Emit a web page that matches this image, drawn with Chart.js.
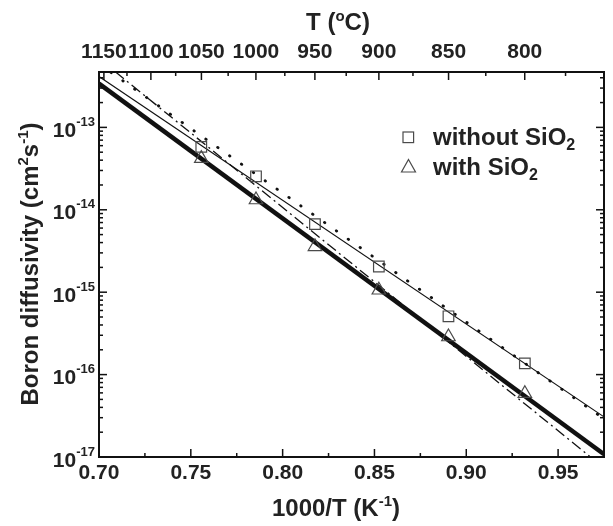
<!DOCTYPE html>
<html>
<head>
<meta charset="utf-8">
<script src="https://cdn.jsdelivr.net/npm/chart.js@4.4.1/dist/chart.umd.min.js"></script>
<style>
  body { margin: 0; background: #fff; }
  #wrap { width: 613px; height: 526px; }
</style>
</head>
<body>
<div id="wrap"><canvas id="myChart" width="613" height="526"></canvas></div>
<script>
// measured points, 1000/T for 1050 ... 800 C
const invT = [0.7557, 0.7855, 0.8176, 0.8524, 0.8903, 0.9319];
const withoutSiO2 = [5.8e-14, 2.55e-14, 6.7e-15, 2.05e-15, 5.1e-16, 1.37e-16];
const withSiO2 = [4.2e-14, 1.32e-14, 3.57e-15, 1.06e-15, 2.87e-16, 5.9e-17];

// fit lines, read at both ends of the x axis
const fitX = [0.70, 0.975];
const fitWithout = [4.14e-13, 3.07e-17];
const fitWithoutDotted = [5.87e-13, 2.9e-17];
const fitWith = [3.4e-13, 1.08e-17];
const fitWithDashDot = [6.85e-13, 7.35e-18];

// tick labels
const xTicks = [0.70, 0.75, 0.80, 0.85, 0.90, 0.95];
const tempTicks = [1150, 1100, 1050, 1000, 950, 900, 850, 800];
const tempMinor = [1125, 1075, 1025, 975, 925, 875, 825, 775];
const yDecades = [-17, -16, -15, -14, -13];

const FONT = '"Liberation Sans", Arial, sans-serif';
const INK = '#222';

function pts(xs, ys) {
    return xs.map((x, i) => ({ x: x, y: ys[i] }));
}

function drawRich(ctx, parts, x, y, align) {
    let total = 0;
    parts.forEach(p => {
        ctx.font = p.font;
        p.w = ctx.measureText(p.t).width;
        total += p.w;
    });
    let cx = x;
    if (align === 'center') cx = x - total / 2;
    if (align === 'right') cx = x - total;
    parts.forEach(p => {
        ctx.font = p.font;
        ctx.fillText(p.t, cx, y + (p.dy || 0));
        cx += p.w;
    });
}

function line(ctx, x1, y1, x2, y2) {
    ctx.beginPath();
    ctx.moveTo(x1, y1);
    ctx.lineTo(x2, y2);
    ctx.stroke();
}

const axesPlugin = {
    id: 'axesPlugin',
    afterDraw(chart) {
        const ctx = chart.ctx;
        const a = chart.chartArea;
        const xs = chart.scales.x;
        const ys = chart.scales.y;
        ctx.save();
        ctx.strokeStyle = '#111';
        ctx.fillStyle = INK;
        ctx.textAlign = 'left';
        ctx.textBaseline = 'alphabetic';

        // frame
        ctx.lineWidth = 2;
        ctx.strokeRect(a.left, a.top, a.right - a.left, a.bottom - a.top);

        ctx.lineWidth = 1.5;
        // bottom ticks and labels
        xTicks.forEach(v => {
            const px = xs.getPixelForValue(v);
            line(ctx, px, a.bottom, px, a.bottom - 8);
            const mx = xs.getPixelForValue(v + 0.025);
            if (v + 0.025 < xs.max - 1e-6) line(ctx, mx, a.bottom, mx, a.bottom - 4);
            drawRich(ctx, [{ t: v.toFixed(2), font: 'bold 21px ' + FONT }], px, 479, 'center');
        });

        // top temperature ticks and labels
        tempTicks.forEach(t => {
            const px = xs.getPixelForValue(1000 / (t + 273.15));
            line(ctx, px, a.top, px, a.top + 8);
            drawRich(ctx, [{ t: String(t), font: 'bold 21px ' + FONT }], px, 58, 'center');
        });
        tempMinor.forEach(t => {
            const px = xs.getPixelForValue(1000 / (t + 273.15));
            line(ctx, px, a.top, px, a.top + 4);
        });

        // left / right log ticks
        yDecades.forEach(d => {
            const py = ys.getPixelForValue(Math.pow(10, d));
            line(ctx, a.left, py, a.left + 8, py);
            line(ctx, a.right, py, a.right - 8, py);
            for (let k = 2; k <= 9; k++) {
                const v = k * Math.pow(10, d);
                if (v > ys.max) break;
                const my = ys.getPixelForValue(v);
                line(ctx, a.left, my, a.left + 4, my);
                line(ctx, a.right, my, a.right - 4, my);
            }
            drawRich(ctx, [
                { t: '10', font: 'bold 21px ' + FONT },
                { t: String(d), font: 'bold 13px ' + FONT, dy: -11 }
            ], 95, py + 9.5, 'right');
        });

        // axis titles
        drawRich(ctx, [
            { t: 'T (', font: 'bold 24px ' + FONT },
            { t: 'o', font: 'bold 15px ' + FONT, dy: -9 },
            { t: 'C)', font: 'bold 24px ' + FONT }
        ], 338, 30, 'center');

        drawRich(ctx, [
            { t: '1000/T (K', font: 'bold 24px ' + FONT },
            { t: '-1', font: 'bold 15px ' + FONT, dy: -10 },
            { t: ')', font: 'bold 24px ' + FONT }
        ], 336, 516, 'center');

        ctx.save();
        ctx.translate(38, 264);
        ctx.rotate(-Math.PI / 2);
        drawRich(ctx, [
            { t: 'Boron diffusivity (cm', font: 'bold 24px ' + FONT },
            { t: '2', font: 'bold 15px ' + FONT, dy: -10 },
            { t: 's', font: 'bold 24px ' + FONT },
            { t: '-1', font: 'bold 15px ' + FONT, dy: -10 },
            { t: ')', font: 'bold 24px ' + FONT }
        ], 0, 0, 'center');
        ctx.restore();

        // legend
        ctx.strokeStyle = '#4a4a4a';
        ctx.lineWidth = 1.2;
        ctx.strokeRect(403, 132, 10.6, 10.6);
        ctx.beginPath();
        ctx.moveTo(408.5, 159.5);
        ctx.lineTo(415.5, 172);
        ctx.lineTo(401.5, 172);
        ctx.closePath();
        ctx.stroke();
        drawRich(ctx, [
            { t: 'without SiO', font: 'bold 24px ' + FONT },
            { t: '2', font: 'bold 16px ' + FONT, dy: 5 }
        ], 433, 145, 'left');
        drawRich(ctx, [
            { t: 'with SiO', font: 'bold 24px ' + FONT },
            { t: '2', font: 'bold 16px ' + FONT, dy: 5 }
        ], 433, 175, 'left');

        ctx.restore();
    }
};

const ctx = document.getElementById('myChart').getContext('2d');
const myChart = new Chart(ctx, {
    type: 'scatter',
    data: {
        datasets: [{
            label: 'without SiO2',
            data: pts(invT, withoutSiO2),
            pointStyle: 'rect',
            pointRadius: 7.5,
            borderColor: '#4a4a4a',
            backgroundColor: 'rgba(0,0,0,0)',
            borderWidth: 1.2,
            showLine: false
        }, {
            label: 'with SiO2',
            data: pts(invT, withSiO2),
            pointStyle: 'triangle',
            pointRadius: 7.8,
            borderColor: '#4a4a4a',
            backgroundColor: 'rgba(0,0,0,0)',
            borderWidth: 1.2,
            showLine: false
        }, {
            label: 'fit without (solid)',
            data: pts(fitX, fitWithout),
            showLine: true,
            pointRadius: 0,
            borderColor: '#111',
            borderWidth: 1.2
        }, {
            label: 'fit without (dotted)',
            data: pts(fitX, fitWithoutDotted),
            showLine: true,
            pointRadius: 0,
            borderColor: '#111',
            borderWidth: 2.8,
            borderDash: [0.5, 14],
            borderCapStyle: 'round'
        }, {
            label: 'fit with (thick)',
            data: pts(fitX, fitWith),
            showLine: true,
            pointRadius: 0,
            borderColor: '#111',
            borderWidth: 4.5
        }, {
            label: 'fit with (dash-dot)',
            data: pts(fitX, fitWithDashDot),
            showLine: true,
            pointRadius: 0,
            borderColor: '#111',
            borderWidth: 1.3,
            borderDash: [11, 4, 2, 4]
        }]
    },
    options: {
        responsive: false,
        animation: false,
        layout: { padding: { left: 99, right: 4, top: 72, bottom: 69 } },
        plugins: {
            legend: { display: false },
            tooltip: { enabled: false }
        },
        scales: {
            x: { type: 'linear', min: 0.70, max: 0.975, display: false },
            y: { type: 'logarithmic', min: 1e-17, max: 4.7e-13, display: false }
        }
    },
    plugins: [axesPlugin]
});
</script>
</body>
</html>
